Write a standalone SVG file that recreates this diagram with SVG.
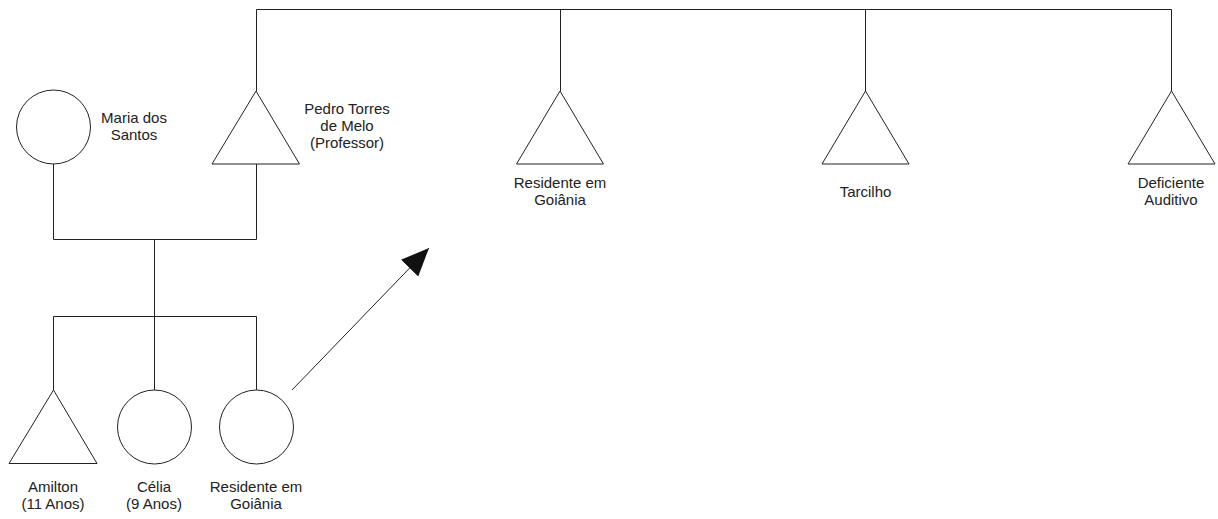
<svg xmlns="http://www.w3.org/2000/svg" width="1218" height="519" viewBox="0 0 1218 519">
<style>
.s{fill:none;stroke:#222;stroke-width:1}
.n{fill:#fff;stroke:#222;stroke-width:1}
text{font-family:"Liberation Sans",Arial,sans-serif;font-size:15px;fill:#222;text-anchor:middle}
</style>
<defs>
<marker id="ah" markerUnits="userSpaceOnUse" markerWidth="30" markerHeight="30" refX="28" refY="12" orient="auto" viewBox="0 0 30 24">
<path d="M0,0 L28,12 L0,24 Z" fill="#111"/>
</marker>
</defs>
<rect width="1218" height="519" fill="#fff"/>
<g id="connectors">
<path class="s" d="M256.5,91 V9.5 H1171.5 V91"/>
<path class="s" d="M560.5,9.5 V91"/>
<path class="s" d="M865.5,9.5 V91"/>
<path class="s" d="M53.5,164 V239.5 H256.5 V164"/>
<path class="s" d="M154.5,239.5 V316.5"/>
<path class="s" d="M53.5,390 V316.5 H256.5 V390"/>
<path class="s" d="M154.5,316.5 V390"/>
<line class="s" x1="292" y1="390" x2="429" y2="248" marker-end="url(#ah)"/>
</g>
<g id="maria">
<circle class="n" cx="53.5" cy="127" r="37"/>
<text x="134" y="123">Maria dos</text>
<text x="134" y="140">Santos</text>
</g>
<g id="pedro">
<polygon class="n" points="256,91 212,164 299.5,164"/>
<text x="347" y="114">Pedro Torres</text>
<text x="347" y="131">de Melo</text>
<text x="347" y="148">(Professor)</text>
</g>
<g id="residente-top">
<polygon class="n" points="560,91 516.5,164 603.5,164"/>
<text x="560" y="188">Residente em</text>
<text x="560" y="205">Goiânia</text>
</g>
<g id="tarcilho">
<polygon class="n" points="865.5,91 822,164 909,164"/>
<text x="865.5" y="197">Tarcilho</text>
</g>
<g id="deficiente">
<polygon class="n" points="1171.5,91 1128,164 1215,164"/>
<text x="1171" y="188">Deficiente</text>
<text x="1171" y="205">Auditivo</text>
</g>
<g id="amilton">
<polygon class="n" points="53.5,390 9,463.5 97,463.5"/>
<text x="53" y="492">Amilton</text>
<text x="53" y="509">(11 Anos)</text>
</g>
<g id="celia">
<circle class="n" cx="154.5" cy="427" r="37"/>
<text x="154" y="492">Célia</text>
<text x="154" y="509">(9 Anos)</text>
</g>
<g id="residente-child">
<circle class="n" cx="256.5" cy="427" r="37"/>
<text x="256" y="492">Residente em</text>
<text x="256" y="509">Goiânia</text>
</g>
</svg>
